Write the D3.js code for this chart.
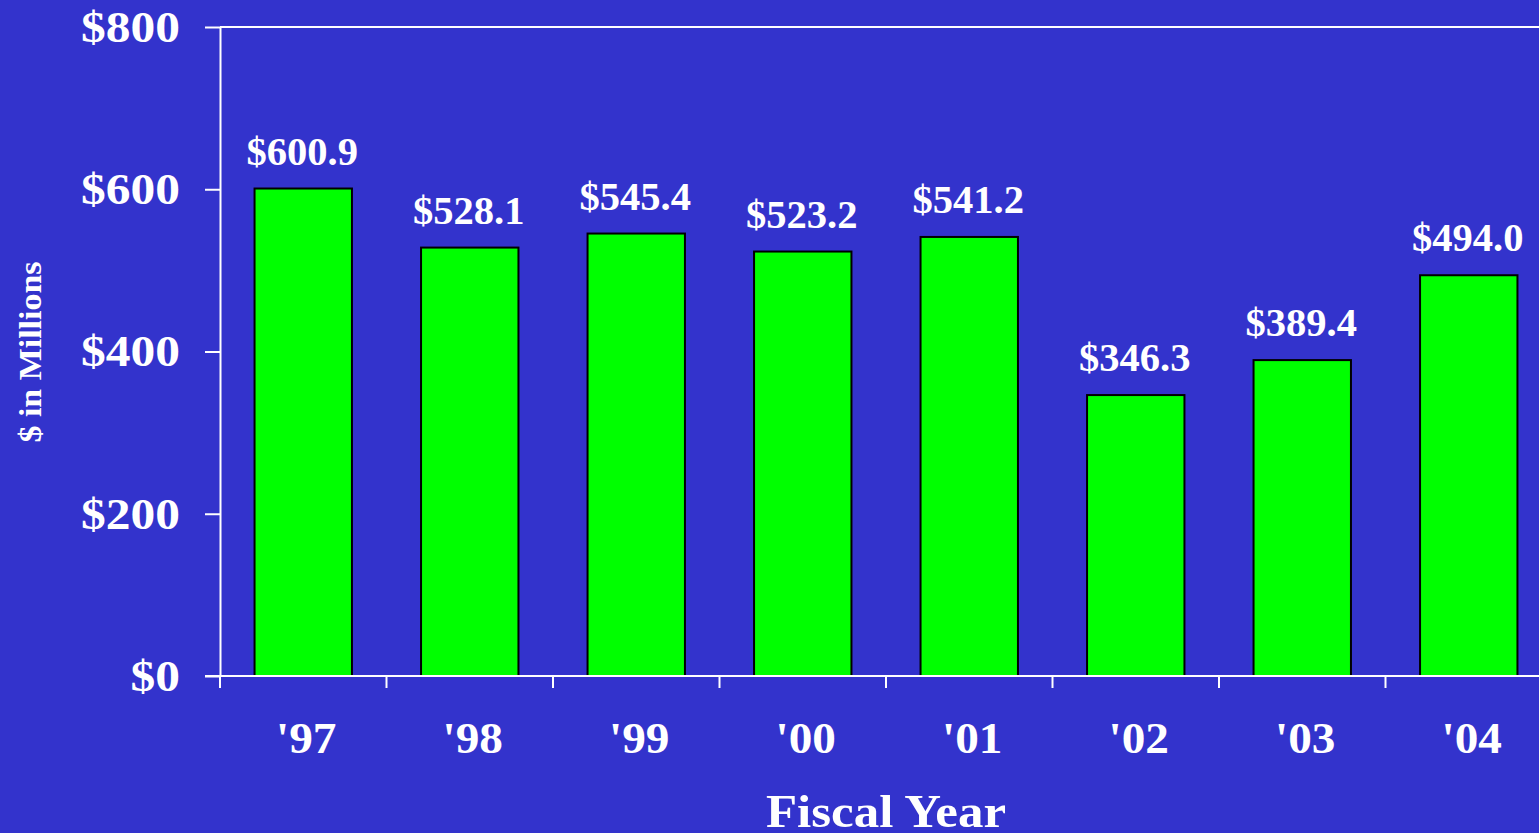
<!DOCTYPE html>
<html>
<head>
<meta charset="utf-8">
<script src="https://cdn.jsdelivr.net/npm/d3@7"></script>
<style>
  html, body { margin: 0; padding: 0; background: #3333cc; overflow: hidden; }
  text { font-family: "Times New Roman", "Liberation Serif", serif; font-weight: bold; fill: white; }
</style>
</head>
<body>
<svg id="chart"></svg>
<script>
const years = ["'97","'98","'99","'00","'01","'02","'03","'04"];
const values = [600.9, 528.1, 545.4, 523.2, 541.2, 346.3, 389.4, 494.0];
const yTicks = [0, 200, 400, 600, 800];

const w = 1539;
const h = 833;

// the original lettering is a little wider than Liberation Serif
function stretch(sel, k) {
  sel.each(function() {
    const len = this.getComputedTextLength();
    d3.select(this)
      .attr("textLength", len * k)
      .attr("lengthAdjust", "spacingAndGlyphs");
  });
}

const svg = d3.select("#chart")
              .attr("width", w)
              .attr("height", h)

svg.append("rect")
   .attr("width", w)
   .attr("height", h)
   .attr("fill", "#3333cc");

const x = d3.scaleBand()
            .domain(years)
            .range([220, 220 + 166.5 * years.length])
            .padding(0);

const y = d3.scaleLinear()
            .domain([0, 800])
            .range([676, 27]);

const barW = x.bandwidth() * 0.585;

// bars
svg.append("g")
   .selectAll("rect")
   .data(values)
   .enter()
   .append("rect")
   .attr("x", (d, i) => x(years[i]) + (x.bandwidth() - barW) / 2)
   .attr("y", d => y(d))
   .attr("width", barW)
   .attr("height", d => y(0) - y(d))
   .attr("fill", "#00ff00")
   .attr("stroke", "black")
   .style("stroke-width", "2px");

// value labels
const vLabels = svg.append("g")
   .selectAll("text")
   .data(values)
   .enter()
   .append("text")
   .attr("x", (d, i) => x(years[i]) + x.bandwidth() / 2 - 1)
   .attr("y", d => y(d) - 24)
   .attr("text-anchor", "middle")
   .style("font-size", "39px")
   .text(d => "$" + d3.format(".1f")(d));
stretch(vLabels, 1.04);

// y axis
const yAxis = svg.append("g")
   .attr("transform", "translate(220,0)")
   .call(d3.axisLeft(y)
           .tickValues(yTicks)
           .tickSize(15)
           .tickSizeOuter(0)
           .tickPadding(25)
           .tickFormat(d => "$" + d));
yAxis.selectAll("line, path").attr("stroke", "white").style("stroke-width", "2px");
yAxis.selectAll("text")
     .attr("fill", "white")
     .style("font-family", "'Times New Roman', 'Liberation Serif', serif")
     .style("font-weight", "bold")
     .style("font-size", "45px");
stretch(yAxis.selectAll("text"), 1.1);

// top frame line and x axis line
svg.append("line")
   .attr("x1", 220).attr("x2", w)
   .attr("y1", y(800)).attr("y2", y(800))
   .attr("stroke", "white").style("stroke-width", "2px");
svg.append("line")
   .attr("x1", 205).attr("x2", w)
   .attr("y1", y(0)).attr("y2", y(0))
   .attr("stroke", "white").style("stroke-width", "2px");

// x ticks at band edges
svg.append("g")
   .selectAll("line")
   .data(years)
   .enter()
   .append("line")
   .attr("x1", d => x(d)).attr("x2", d => x(d))
   .attr("y1", y(0)).attr("y2", y(0) + 12)
   .attr("stroke", "white")
   .style("stroke-width", "2px");

const xLabels = svg.append("g")
   .selectAll("text")
   .data(years)
   .enter()
   .append("text")
   .attr("x", d => x(d) + x.bandwidth() / 2 + 3)
   .attr("y", 753)
   .attr("text-anchor", "middle")
   .style("font-size", "45px")
   .text(d => d);
stretch(xLabels, 1.05);

// axis titles
svg.append("text")
   .attr("x", 886)
   .attr("y", 827)
   .attr("text-anchor", "middle")
   .attr("textLength", 240)
   .attr("lengthAdjust", "spacingAndGlyphs")
   .style("font-size", "46px")
   .text("Fiscal Year");

svg.append("text")
   .attr("transform", "translate(41,352) rotate(-90)")
   .attr("text-anchor", "middle")
   .attr("textLength", 181)
   .attr("lengthAdjust", "spacingAndGlyphs")
   .style("font-size", "32px")
   .text("$ in Millions");
</script>
</body>
</html>
